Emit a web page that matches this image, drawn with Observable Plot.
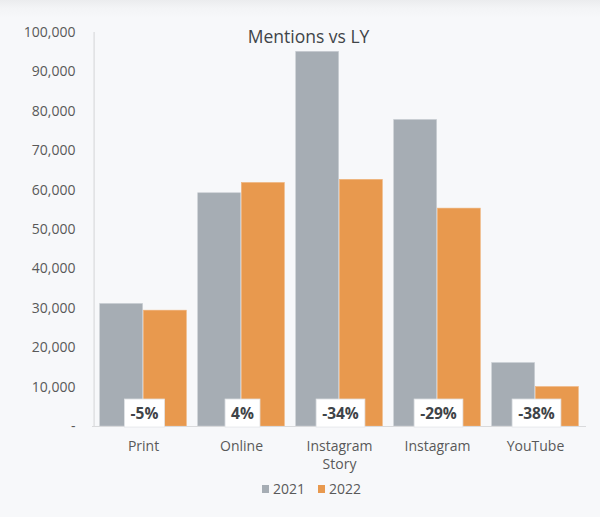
<!DOCTYPE html>
<html>
<head>
<meta charset="utf-8">
<script src="https://cdn.jsdelivr.net/npm/d3@7"></script>
<script src="https://cdn.jsdelivr.net/npm/@observablehq/plot@0.6"></script>
<style>
  html, body { margin: 0; padding: 0; }
  body {
    width: 600px; height: 517px; overflow: hidden;
    background: linear-gradient(to bottom, #ebecee 0px, #f3f4f6 8px, #f7f8fa 18px, #f7f8fa 100%);
    font-family: "Open Sans", sans-serif;
    position: relative;
  }
  #chart { position: absolute; left: 0; top: 0; }
  #legend {
    position: absolute; left: 262px; top: 479px;
    display: flex; align-items: center; gap: 0;
    font: 14px "Open Sans", sans-serif; color: #595959;
  }
  #legend .item { display: flex; align-items: center; margin-right: 13px; }
  #legend .sw { width: 7px; height: 8px; display: inline-block; margin-right: 4px; }
</style>
</head>
<body>
<div id="chart"></div>
<div id="legend"></div>
<script>
const title = "Mentions vs LY";
const categories = ["Print", "Online", "Instagram Story", "Instagram", "YouTube"];
const years = ["2021", "2022"];
const values2021 = [31100, 59200, 95100, 77800, 16100];
const values2022 = [29400, 61800, 62600, 55300, 10000];
const changeLabels = ["-5%", "4%", "-34%", "-29%", "-38%"];
const yTicks = [0, 10000, 20000, 30000, 40000, 50000, 60000, 70000, 80000, 90000, 100000];
const colors = ["#a6adb4", "#e8994e"];

const rows2021 = categories.map((c, i) => ({category: c, year: years[0], value: values2021[i]}));
const rows2022 = categories.map((c, i) => ({category: c, year: years[1], value: values2022[i]}));
const labelRows = categories.map((c, i) => ({category: c, label: changeLabels[i]}));

const fmt = d3.format(",");

const plot = Plot.plot({
  width: 600,
  height: 475,
  marginTop: 32,
  marginBottom: 49,
  marginLeft: 92,
  marginRight: 14,
  style: {background: "transparent", fontFamily: "Open Sans, sans-serif"},
  x: {domain: categories, padding: 0, label: null},
  y: {domain: [0, 100000], label: null},
  marks: [
    Plot.barY(rows2021, {x: "category", y: "value", fill: colors[0], stroke: "#c9cdd2", strokeWidth: 0.6, insetLeft: 5.7, insetRight: 49.4}),
    Plot.barY(rows2022, {x: "category", y: "value", fill: colors[1], stroke: "#efb27a", strokeWidth: 0.6, insetLeft: 49.4, insetRight: 5.7}),
    Plot.ruleY([0], {stroke: "#d9dadc", strokeWidth: 1.2}),
    Plot.ruleX([categories[0]], {y1: 0, y2: 100000, dx: -49.4, stroke: "#d9dadc", strokeWidth: 1.2}),
    Plot.text(labelRows, {x: "category", y: 3150, dx: 1, text: "label", fill: "#3f4448", fontWeight: "bold", fontSize: 15.5}),
    Plot.axisY({ticks: yTicks, tickSize: 0, tickPadding: 17, tickFormat: d => d === 0 ? "-" : fmt(d), fontSize: 14, color: "#595959", label: null}),
    Plot.axisX({tickSize: 0, tickPadding: 12, fontSize: 14, color: "#595959", lineWidth: 6.5, lineHeight: 1.28, label: null}),
    Plot.text([title], {text: d => d, frameAnchor: "top", dx: -31, dy: -2, fontSize: 17.5, fill: "#404448"})
  ]
});
document.getElementById("chart").appendChild(plot);

// white boxes behind the change labels, sized from the rendered text
const svg = plot.tagName.toLowerCase() === "svg" ? plot : plot.querySelector("svg");
Array.from(svg.querySelectorAll("text"))
  .filter(t => changeLabels.includes(t.textContent.trim()))
  .forEach(t => {
    const b = t.getBBox();
    const r = document.createElementNS("http://www.w3.org/2000/svg", "rect");
    const padX = 6, padY = 3;
    r.setAttribute("x", b.x - padX);
    r.setAttribute("y", b.y - padY);
    r.setAttribute("width", b.width + 2 * padX);
    r.setAttribute("height", b.height + 2 * padY);
    r.setAttribute("fill", "#ffffff");
    r.setAttribute("stroke", "#e3e5e8");
    r.setAttribute("stroke-width", "0.8");
    const tr = t.getAttribute("transform");
    if (tr) r.setAttribute("transform", tr);
    t.parentNode.insertBefore(r, t);
  });

const legend = document.getElementById("legend");
years.forEach((y, i) => {
  const item = document.createElement("div");
  item.className = "item";
  item.innerHTML = `<span class="sw" style="background:${colors[i]}"></span><span>${y}</span>`;
  legend.appendChild(item);
});
</script>
</body>
</html>
